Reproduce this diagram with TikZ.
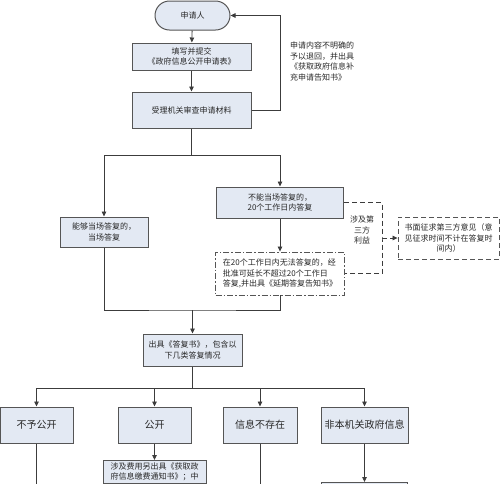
\documentclass[tikz,border=0pt]{standalone}
\usepackage{fontspec}
\newfontfamily\cjk{Noto Sans CJK SC}
\usetikzlibrary{arrows.meta}
\definecolor{boxfill}{RGB}{227,233,243}
\definecolor{boxline}{RGB}{85,85,85}
\definecolor{wireline}{RGB}{60,60,60}
\definecolor{textgray}{RGB}{40,40,40}
\tikzset{
  flowline/.style={line width=0.8pt, draw=wireline},
  flowarrow/.style={flowline, -{Triangle[length=5pt,width=4.5pt]}},
  dashline/.style={flowline, dash pattern=on 5pt off 3pt},
  dasharrow/.style={flowarrow, dash pattern=on 5pt off 3pt},
  stepbox/.style={draw=boxline, line width=1pt, fill=boxfill, align=center, inner sep=2pt, text=textgray},
  startnode/.style={stepbox, rounded corners=14.5pt},
  kindbox/.style={stepbox, minimum height=36, font=\cjk\fontsize{10}{12}\selectfont},
  dashbox/.style={draw=boxline, line width=0.9pt, fill=white, align=center, inner sep=2pt, text=textgray, dash pattern=on 5pt off 3pt},
  extendbox/.style={dashbox, align=left, dash pattern=on 6pt off 2pt on 1.5pt off 2pt},
  plaintext/.style={align=left, inner sep=0pt, text=textgray}
}

\begin{document}
\begin{tikzpicture}[x=1pt, y=-1pt, every node/.style={font=\cjk\fontsize{8}{10.5}\selectfont}]
  \useasboundingbox (0,0) rectangle (500,483);
  \clip (0,0) rectangle (500,483);
  \node[startnode, minimum width=75, minimum height=29] (start) at (192.5,15.5) {申请人};
  \node[stepbox, minimum width=119, minimum height=27] (fill) at (191.5,56.5) {填写并提交\\《政府信息公开申请表》};
  \node[stepbox, minimum width=119, minimum height=36] (review) at (191.5,110) {受理机关审查申请材料};
  \node[plaintext, anchor=north west] (note) at (290,42) {申请内容不明确的\\予以退回，并出具\\《获取政府信息补\\充申请告知书》};
  \coordinate (split) at (191.5,155);
  \node[stepbox, minimum width=88, minimum height=30] (onsite) at (104,232) {能够当场答复的，\\当场答复};
  \node[stepbox, minimum width=127, minimum height=31] (defer) at (280,202.5) {不能当场答复的，\\20个工作日内答复};
  \node[extendbox, minimum width=129, minimum height=43] (extend) at (280,273.5) {在20个工作日内无法答复的，经\\批准可延长不超过20个工作日\\答复,并出具《延期答复告知书》};
  \node[plaintext, align=center] (third) at (362,230) {涉及第\\三方\\利益};
  \coordinate (turn) at (382,238);
  \node[dashbox, minimum width=101, minimum height=42] (consult) at (448.5,238) {书面征求第三方意见（意\\见征求时间不计在答复时\\间内）};
  \coordinate (merge) at (192.5,310);
  \node[stepbox, minimum width=99, minimum height=32] (reply) at (192.5,350) {出具《答复书》，包含以\\下几类答复情况};
  \coordinate (branch) at (192.5,388);
  \node[kindbox, minimum width=73] (refuse) at (36.5,425) {不予公开};
  \node[kindbox, minimum width=73] (open) at (154.5,425) {公开};
  \node[kindbox, minimum width=74] (none) at (260,425) {信息不存在};
  \node[kindbox, minimum width=87] (other) at (364.5,425) {非本机关政府信息};
  \node[stepbox, anchor=north, minimum width=103, align=left] (fee) at (154.5,460) {涉及费用另出具《获取政\\府信息缴费通知书》；中};
  \node[stepbox, anchor=north, minimum width=86, minimum height=36] (nextbox) at (364.5,482) {};
  \coordinate (refuseout) at (36.5,500);
  \coordinate (noneout) at (260,500);

  \draw[flowarrow] (start) -- (fill);
  \draw[flowarrow] (fill) -- (review);
  \draw[flowarrow] (review.east) -- ++(29,0) |- (start.east);
  \draw[flowline] (review) -- (split);
  \draw[flowarrow] (split) -| (onsite);
  \draw[flowarrow] (split) -| (defer);
  \draw[flowarrow] (defer) -- (extend);
  \draw[dashline] (defer.east) -| (turn) |- (extend.east);
  \draw[dasharrow] (turn) -- (consult);
  \draw[flowline] (onsite) |- (merge) -| (extend);
  \draw[flowarrow] (merge) -- (reply);
  \draw[flowline] (reply) -- (branch);
  \draw[flowarrow] (branch) -| (refuse);
  \draw[flowarrow] (branch) -| (open);
  \draw[flowarrow] (branch) -| (none);
  \draw[flowarrow] (branch) -| (other);
  \draw[flowarrow] (open) -- (fee);
  \draw[flowarrow] (other) -- (nextbox);
  \draw[flowline] (refuse) -- (refuseout);
  \draw[flowline] (none) -- (noneout);
\end{tikzpicture}
\end{document}
